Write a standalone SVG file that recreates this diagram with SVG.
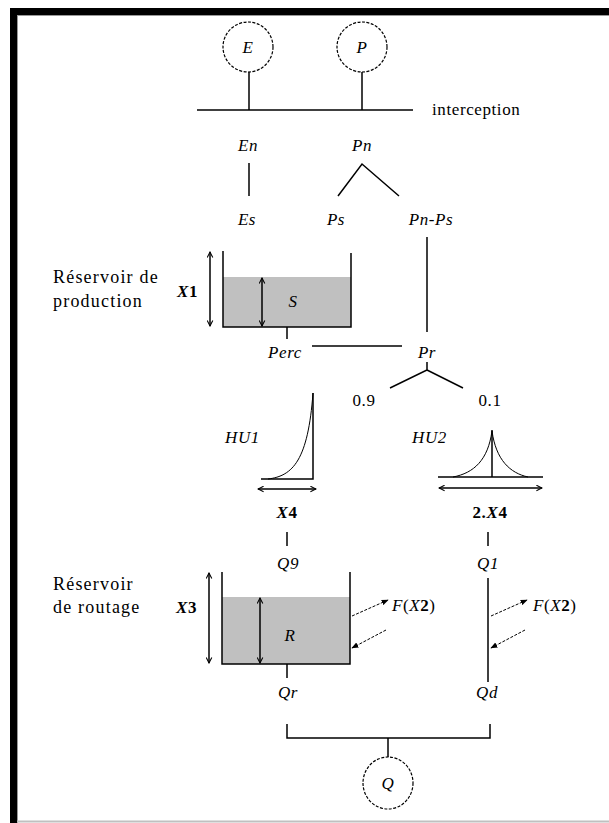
<svg xmlns="http://www.w3.org/2000/svg" width="609" height="823" viewBox="0 0 609 823">
<style>
.ln{stroke:#000;stroke-width:1.5;fill:none}
.thin{stroke:#000;stroke-width:1;fill:none}
.dbl{stroke:#000;stroke-width:1.5;fill:none}
.dc{stroke:#000;stroke-width:1.2;fill:#fff;stroke-dasharray:3 1.5}
.dash{stroke:#000;stroke-width:1;fill:none;stroke-dasharray:3 1.5}
text{font-family:"Liberation Serif","Times New Roman","DejaVu Serif",serif;font-size:17px;fill:#000;letter-spacing:0.6px}
.lbl{font-size:18px;letter-spacing:1.2px}
.i{font-style:italic}
.m{text-anchor:middle}
.b{font-weight:bold}
.gray{fill:#c0c0c0}
</style>
<defs>
<marker id="oa" viewBox="0 0 10 10" refX="9" refY="5" markerWidth="7" markerHeight="7" orient="auto-start-reverse" markerUnits="userSpaceOnUse">
<path d="M1 1 L9 5 L1 9" fill="none" stroke="#000" stroke-width="1.5"/>
</marker>
<marker id="fa" viewBox="0 0 10 10" refX="9" refY="5" markerWidth="7" markerHeight="7" orient="auto" markerUnits="userSpaceOnUse">
<path d="M0 1 L10 5 L0 9 Z" fill="#000"/>
</marker>
</defs>
<!-- frame -->
<rect x="10" y="8" width="599" height="7" fill="#000"/>
<rect x="10" y="8" width="7" height="815" fill="#000"/>
<line x1="17" y1="15.5" x2="609" y2="15.5" stroke="#999" stroke-width="1"/>
<line x1="17.5" y1="16" x2="17.5" y2="823" stroke="#999" stroke-width="1"/>
<line x1="17" y1="821.5" x2="609" y2="821.5" stroke="#c0c0c0" stroke-width="2"/>

<g id="connectors">
<line class="ln" x1="249" y1="72" x2="249" y2="110"/>
<line class="ln" x1="362" y1="72" x2="362" y2="110"/>
<line class="ln" x1="197" y1="110" x2="413" y2="110"/>
<line class="ln" x1="249" y1="163" x2="249" y2="196"/>
<polyline class="ln" points="338,196 362,164 399,196"/>
<line class="ln" x1="427" y1="237" x2="427" y2="332"/>
<line class="ln" x1="287" y1="327" x2="287" y2="339"/>
<line class="ln" x1="312" y1="346" x2="402" y2="346"/>
<polyline class="ln" points="427,362 427,370 390,388"/>
<line class="ln" x1="427" y1="370" x2="463" y2="388"/>
<line class="ln" x1="287" y1="532" x2="287" y2="546"/>
<line class="ln" x1="488" y1="532" x2="488" y2="546"/>
<line class="ln" x1="488" y1="578" x2="488" y2="682"/>
<line class="ln" x1="287" y1="664" x2="287" y2="678"/>
<polyline class="ln" points="287,724 287,738 490,738 490,724"/>
<line class="ln" x1="388" y1="738" x2="388" y2="757"/>
<line class="dash" x1="352" y1="616" x2="388" y2="600" marker-end="url(#fa)"/>
<line class="dash" x1="386" y1="630" x2="352" y2="648" marker-end="url(#fa)"/>
<line class="dash" x1="491" y1="616" x2="527" y2="600" marker-end="url(#fa)"/>
<line class="dash" x1="525" y1="630" x2="491" y2="648" marker-end="url(#fa)"/>
</g>

<g id="node-E">
<circle class="dc" cx="248" cy="47" r="25"/>
<text class="i m" x="248" y="53">E</text>
</g>
<g id="node-P">
<circle class="dc" cx="362" cy="47" r="25"/>
<text class="i m" x="362" y="53">P</text>
</g>
<g id="label-interception"><text x="432" y="115" letter-spacing="0.3">interception</text></g>
<g id="node-En"><text class="i m" x="248" y="151">En</text></g>
<g id="node-Pn"><text class="i m" x="362" y="151">Pn</text></g>
<g id="node-Es"><text class="i m" x="247" y="225">Es</text></g>
<g id="node-Ps"><text class="i m" x="336" y="225">Ps</text></g>
<g id="node-PnPs"><text class="i m" x="431" y="225">Pn-Ps</text></g>

<g id="reservoir-production">
<text class="lbl" x="53" y="283">Réservoir de</text>
<text class="lbl" x="53" y="307">production</text>
<rect class="gray" x="223" y="277" width="128" height="50"/>
<polyline class="ln" points="223,251 223,327 351,327 351,253"/>
<line class="dbl" x1="210" y1="252" x2="210" y2="326" marker-start="url(#oa)" marker-end="url(#oa)"/>
<line class="dbl" x1="262" y1="278" x2="262" y2="326" marker-start="url(#oa)" marker-end="url(#oa)"/>
<text class="b" x="177" y="297" font-size="18"><tspan class="i">X</tspan>1</text>
<text class="i m" x="293" y="307" font-size="18">S</text>
</g>
<g id="node-Perc"><text class="i m" x="285" y="358">Perc</text></g>
<g id="node-Pr"><text class="i m" x="427" y="358">Pr</text></g>
<g id="node-09"><text class="m" x="364" y="406">0.9</text></g>
<g id="node-01"><text class="m" x="490" y="406">0.1</text></g>

<g id="node-HU1">
<text class="i" x="225" y="443">HU1</text>
<path class="thin" d="M268 479 C293 476 308 460 313 393"/>
<polyline class="ln" points="261,479 313,479 313,393"/>
<line class="dbl" x1="258" y1="489" x2="316" y2="489" marker-start="url(#oa)" marker-end="url(#oa)"/>
<text class="m b" x="287" y="518"><tspan class="i">X</tspan>4</text>
</g>
<g id="node-HU2">
<text class="i" x="412" y="443">HU2</text>
<path class="thin" d="M453 477 C474 473 488 460 492 431 C496 460 510 473 528 477"/>
<line class="ln" x1="438" y1="477" x2="543" y2="477"/>
<line class="ln" x1="492" y1="430" x2="492" y2="477"/>
<line class="dbl" x1="439" y1="488" x2="542" y2="488" marker-start="url(#oa)" marker-end="url(#oa)"/>
<text class="m b" x="490" y="518">2.<tspan class="i">X</tspan>4</text>
</g>

<g id="node-Q9"><text class="i m" x="288" y="569">Q9</text></g>
<g id="node-Q1"><text class="i m" x="488" y="569">Q1</text></g>

<g id="reservoir-routage">
<text class="lbl" x="53" y="590">Réservoir</text>
<text class="lbl" x="53" y="613">de routage</text>
<rect class="gray" x="222" y="597" width="128" height="67"/>
<polyline class="ln" points="222,572 222,664 350,664 350,572"/>
<line class="dbl" x1="209" y1="573" x2="209" y2="663" marker-start="url(#oa)" marker-end="url(#oa)"/>
<line class="dbl" x1="260" y1="598" x2="260" y2="663" marker-start="url(#oa)" marker-end="url(#oa)"/>
<text class="b" x="176" y="613" font-size="18"><tspan class="i">X</tspan>3</text>
<text class="i m" x="290" y="641" font-size="18">R</text>
<text x="392" y="611"><tspan class="i">F</tspan>(<tspan class="i">X</tspan><tspan class="b">2</tspan>)</text>
</g>
<g id="label-FX2-right"><text x="533" y="611"><tspan class="i">F</tspan>(<tspan class="i">X</tspan><tspan class="b">2</tspan>)</text></g>
<g id="node-Qr"><text class="i m" x="288" y="698">Qr</text></g>
<g id="node-Qd"><text class="i m" x="487" y="698">Qd</text></g>
<g id="node-Q">
<ellipse class="dc" cx="388" cy="783" rx="25" ry="26"/>
<text class="i m" x="388" y="789">Q</text>
</g>
</svg>
